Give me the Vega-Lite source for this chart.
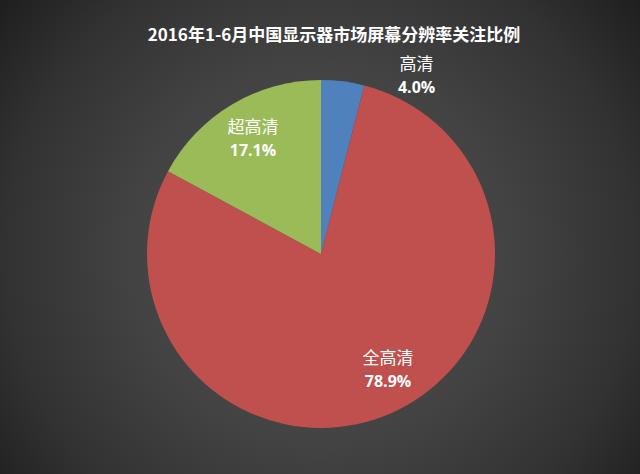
{
  "$schema": "https://vega.github.io/schema/vega-lite/v6.json",
  "autosize": "none",
  "width": 642,
  "height": 508,
  "padding": 0,
  "background": "#2a2a2a",
  "title": {
    "text": "2016年1-6月中国显示器市场屏幕分辨率关注比例",
    "orient": "top",
    "anchor": "middle",
    "frame": "group",
    "offset": -219,
    "baseline": "middle",
    "font": "Noto Sans CJK SC",
    "fontSize": 17,
    "fontWeight": "bold",
    "color": "#ffffff",
    "dx": 13
  },
  "config": {"view": {"stroke": null}},
  "data": {
    "values": [
      {"label": "高清", "value": 4.0, "pct": "4.0%", "idx": 1},
      {"label": "全高清", "value": 78.9, "pct": "78.9%", "idx": 2},
      {"label": "超高清", "value": 17.1, "pct": "17.1%", "idx": 3}
    ]
  },
  "layer": [
    {
      "mark": {
        "type": "arc",
        "radius": 420,
        "fill": {
          "gradient": "radial",
          "x1": 0.5, "y1": 0.5, "r1": 0,
          "x2": 0.5, "y2": 0.5, "r2": 0.5,
          "stops": [
            {"offset": 0, "color": "#4e4e4e"},
            {"offset": 0.45, "color": "#434343"},
            {"offset": 0.75, "color": "#323232"},
            {"offset": 1, "color": "#1c1c1c"}
          ]
        }
      },
      "encoding": {}
    },
    {
      "mark": {"type": "arc", "radius": 174, "stroke": null},
      "encoding": {
        "theta": {"field": "value", "type": "quantitative", "stack": true},
        "order": {"field": "idx", "type": "quantitative"},
        "color": {
          "field": "label",
          "type": "nominal",
          "scale": {"domain": ["高清", "全高清", "超高清"], "range": ["#4f81bd", "#c0504d", "#9bbb59"]},
          "legend": null
        }
      }
    },
    {
      "mark": {"type": "text", "radius": 180, "dx": 73, "dy": -10, "font": "Noto Sans CJK SC", "fontSize": 17, "color": "#ffffff"},
      "encoding": {
        "theta": {"field": "value", "type": "quantitative", "stack": true},
        "order": {"field": "idx", "type": "quantitative"},
        "text": {"condition": {"test": "datum.label === '高清'", "field": "label"}, "value": ""}
      }
    },
    {
      "mark": {"type": "text", "radius": 180, "dx": 73, "dy": 13, "font": "Open Sans", "fontSize": 16, "fontWeight": "bold", "color": "#ffffff"},
      "encoding": {
        "theta": {"field": "value", "type": "quantitative", "stack": true},
        "order": {"field": "idx", "type": "quantitative"},
        "text": {"condition": {"test": "datum.label === '高清'", "field": "pct"}, "value": ""}
      }
    },
    {
      "mark": {"type": "text", "radius": 133, "dx": 0, "dy": -12, "font": "Noto Sans CJK SC", "fontSize": 17, "color": "#ffffff"},
      "encoding": {
        "theta": {"field": "value", "type": "quantitative", "stack": true},
        "order": {"field": "idx", "type": "quantitative"},
        "text": {"condition": {"test": "datum.label === '超高清'", "field": "label"}, "value": ""}
      }
    },
    {
      "mark": {"type": "text", "radius": 133, "dx": 0, "dy": 11, "font": "Open Sans", "fontSize": 16, "fontWeight": "bold", "color": "#ffffff"},
      "encoding": {
        "theta": {"field": "value", "type": "quantitative", "stack": true},
        "order": {"field": "idx", "type": "quantitative"},
        "text": {"condition": {"test": "datum.label === '超高清'", "field": "pct"}, "value": ""}
      }
    },
    {
      "mark": {"type": "text", "radius": 125, "dx": 17, "dy": -10, "font": "Noto Sans CJK SC", "fontSize": 17, "color": "#ffffff"},
      "encoding": {
        "theta": {"field": "value", "type": "quantitative", "stack": true},
        "order": {"field": "idx", "type": "quantitative"},
        "text": {"condition": {"test": "datum.label === '全高清'", "field": "label"}, "value": ""}
      }
    },
    {
      "mark": {"type": "text", "radius": 125, "dx": 17, "dy": 13, "font": "Open Sans", "fontSize": 16, "fontWeight": "bold", "color": "#ffffff"},
      "encoding": {
        "theta": {"field": "value", "type": "quantitative", "stack": true},
        "order": {"field": "idx", "type": "quantitative"},
        "text": {"condition": {"test": "datum.label === '全高清'", "field": "pct"}, "value": ""}
      }
    }
  ]
}
